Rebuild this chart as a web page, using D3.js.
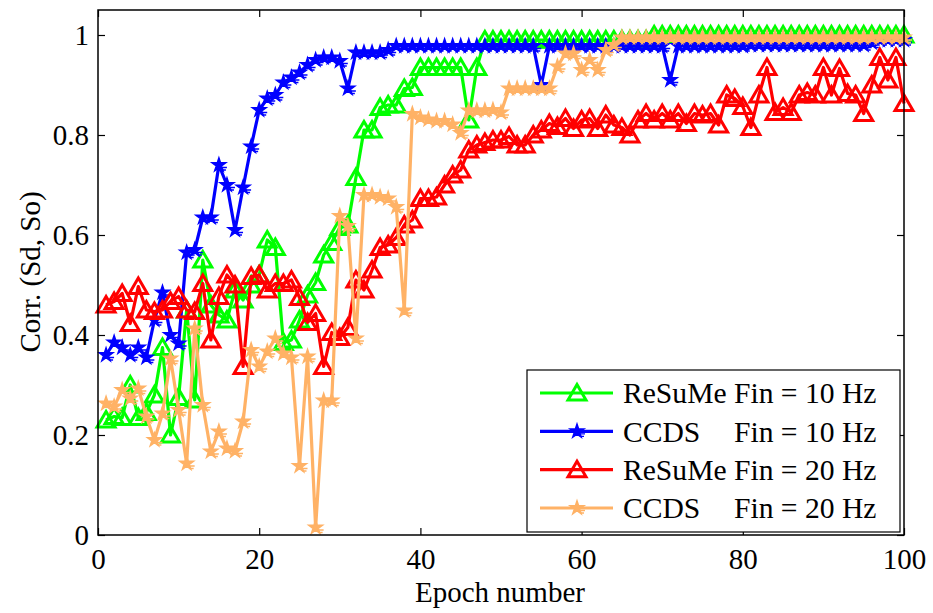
<!DOCTYPE html>
<html>
<head>
<meta charset="utf-8">
<style>
body { margin: 0; background: #fff; }
svg { font-family: "Liberation Serif", "Times New Roman", serif; }
.axis text { font-family: "Liberation Serif", "Times New Roman", serif; font-size: 29px; fill: #000; }
.axis line { stroke: #000; stroke-width: 1.2px; }
.axis path { display: none; }
.frame { fill: none; stroke: #000; stroke-width: 1.5px; }
.series { fill: none; stroke-width: 3.2px; stroke-linejoin: round; }
.label { font-size: 29px; fill: #000; }
.legend-text { font-size: 29.6px; fill: #000; }
</style>
</head>
<body>
<svg width="933" height="613"></svg>
<script src="https://d3js.org/d3.v7.min.js"></script>
<script>

// epochs 1..100
var epochs = d3.range(1, 101);

var resume10 = [
  0.23, 0.237, 0.235, 0.30, 0.235, 0.245, 0.28, 0.375, 0.20, 0.275,
  0.45, 0.27, 0.55, 0.46, 0.44, 0.43, 0.49, 0.47, 0.50, 0.52,
  0.59, 0.575, 0.385, 0.39, 0.43, 0.48, 0.505, 0.56, 0.585, 0.615,
  0.62, 0.715, 0.81, 0.81, 0.855, 0.86, 0.86, 0.893, 0.895, 0.935,
  0.935, 0.935, 0.935, 0.935, 0.935, 0.83, 0.935, 0.99, 0.99, 0.99,
  0.99, 0.99, 0.99, 0.99, 0.99, 0.99, 0.99, 0.99, 0.99, 0.99,
  0.99, 0.99, 0.99, 0.99, 0.99, 0.99, 0.99, 0.99, 1.0, 1.0,
  1.0, 1.0, 1.0, 1.0, 1.0, 1.0, 1.0, 1.0, 1.0, 1.0,
  1.0, 1.0, 1.0, 1.0, 1.0, 1.0, 1.0, 1.0, 1.0, 1.0,
  1.0, 1.0, 1.0, 1.0, 1.0, 1.0, 1.0, 1.0, 1.0, 1.0
];

var ccds10 = [
  0.36, 0.385, 0.375, 0.36, 0.375, 0.355, 0.43, 0.485, 0.40, 0.383,
  0.565, 0.57, 0.635, 0.635, 0.74, 0.70, 0.61, 0.695, 0.777, 0.85,
  0.873, 0.88, 0.905, 0.915, 0.925, 0.94, 0.95, 0.955, 0.955, 0.948,
  0.893, 0.965, 0.965, 0.965, 0.965, 0.97, 0.978, 0.978, 0.978, 0.978,
  0.978, 0.978, 0.978, 0.978, 0.978, 0.978, 0.978, 0.978, 0.978, 0.978,
  0.978, 0.978, 0.978, 0.978, 0.90, 0.978, 0.978, 0.978, 0.978, 0.978,
  0.978, 0.978, 0.978, 0.978, 0.978, 0.978, 0.978, 0.978, 0.978, 0.978,
  0.91, 0.978, 0.978, 0.978, 0.978, 0.978, 0.978, 0.978, 0.978, 0.978,
  0.98, 0.98, 0.98, 0.98, 0.98, 0.98, 0.98, 0.98, 0.98, 0.98,
  0.98, 0.98, 0.98, 0.98, 0.98, 0.985, 0.99, 0.99, 0.99, 0.99
];

var resume20 = [
  0.46, 0.467, 0.483, 0.423, 0.497, 0.45, 0.447, 0.45, 0.467, 0.477,
  0.45, 0.447, 0.503, 0.39, 0.477, 0.52, 0.50, 0.337, 0.517, 0.52,
  0.49, 0.503, 0.503, 0.51, 0.475, 0.425, 0.443, 0.337, 0.405, 0.395,
  0.415, 0.51, 0.49, 0.53, 0.575, 0.58, 0.595, 0.62, 0.63, 0.673,
  0.673, 0.676, 0.70, 0.72, 0.73, 0.77, 0.78, 0.785, 0.79, 0.79,
  0.797, 0.78, 0.78, 0.80, 0.81, 0.823, 0.817, 0.833, 0.813, 0.83,
  0.833, 0.813, 0.84, 0.82, 0.815, 0.80, 0.83, 0.843, 0.83, 0.843,
  0.83, 0.843, 0.823, 0.843, 0.84, 0.843, 0.82, 0.88, 0.873, 0.857,
  0.815, 0.88, 0.935, 0.845, 0.855, 0.845, 0.88, 0.885, 0.88, 0.935,
  0.88, 0.933, 0.883, 0.88, 0.843, 0.90, 0.955, 0.91, 0.955, 0.863
];

var ccds20 = [
  0.263, 0.257, 0.29, 0.273, 0.293, 0.237, 0.19, 0.243, 0.353, 0.25,
  0.143, 0.413, 0.26, 0.167, 0.207, 0.173, 0.168, 0.227, 0.37, 0.337,
  0.367, 0.393, 0.363, 0.355, 0.138, 0.357, 0.015, 0.269, 0.269, 0.638,
  0.618, 0.393, 0.68, 0.68, 0.676, 0.673, 0.656, 0.449, 0.842, 0.835,
  0.831, 0.828, 0.828, 0.821, 0.804, 0.849, 0.849, 0.849, 0.85, 0.845,
  0.893, 0.893, 0.893, 0.893, 0.893, 0.893, 0.937, 0.963, 0.963, 0.93,
  0.95, 0.93, 0.97, 0.98, 0.995, 0.995, 0.995, 0.995, 0.995, 0.995,
  0.995, 0.995, 0.995, 0.995, 0.995, 0.995, 0.995, 0.995, 0.995, 0.995,
  0.995, 0.995, 0.995, 0.995, 0.995, 0.995, 0.995, 0.995, 0.995, 0.995,
  0.995, 0.995, 0.995, 0.995, 0.995, 0.995, 0.995, 0.995, 0.995, 0.995
];

var legendNames = ["ReSuMe", "CCDS", "ReSuMe", "CCDS"];
var legendRates = ["Fin = 10 Hz", "Fin = 10 Hz", "Fin = 20 Hz", "Fin = 20 Hz"];
var xTicks = [0, 20, 40, 60, 80, 100];
var yTicks = [0, 0.2, 0.4, 0.6, 0.8, 1];

var series = [
  {values: resume10, color: "#00ff00", marker: "tri"},
  {values: ccds10, color: "#0000ff", marker: "star"},
  {values: resume20, color: "#ff0000", marker: "tri"},
  {values: ccds20, color: "#ffb266", marker: "star"}
];

var plotLeft = 98, plotRight = 904, plotTop = 10, plotBottom = 535;

var svg = d3.select("svg");

var x = d3.scaleLinear().domain([0, 100]).range([plotLeft, plotRight]);
var y = d3.scaleLinear().domain([0, 1.05]).range([plotBottom, plotTop]);

svg.append("rect").attr("width", 933).attr("height", 613).attr("fill", "#fff");

// axes, ticks point inward on all four sides
svg.append("g").attr("class", "axis")
    .attr("transform", "translate(0," + plotBottom + ")")
    .call(d3.axisBottom(x).tickValues(xTicks).tickSize(-7).tickPadding(13).tickFormat(d3.format("d")));
svg.append("g").attr("class", "axis")
    .attr("transform", "translate(0," + plotTop + ")")
    .call(d3.axisTop(x).tickValues(xTicks).tickSize(-7).tickFormat(""));
svg.append("g").attr("class", "axis")
    .attr("transform", "translate(" + plotLeft + ",0)")
    .call(d3.axisLeft(y).tickValues(yTicks).tickSize(-7).tickPadding(9).tickFormat(d3.format("")));
svg.append("g").attr("class", "axis")
    .attr("transform", "translate(" + plotRight + ",0)")
    .call(d3.axisRight(y).tickValues(yTicks).tickSize(-7).tickFormat(""));

var triPath = "M0,-8.5L9,7L-9,7Z";
var star = d3.symbol().type(d3.symbolStar).size(60);

function drawMarker(g, s) {
  if (s.marker === "tri") {
    g.append("path").attr("d", triPath)
      .attr("fill", "none").attr("stroke", s.color).attr("stroke-width", 3);
  } else {
    g.append("path").attr("d", star())
      .attr("fill", s.color).attr("stroke", s.color).attr("stroke-width", 1.4);
    g.append("path").attr("d", "M3,2.5H8M3,5H7")
      .attr("stroke", s.color).attr("stroke-width", 1.3);
  }
}

var line = d3.line()
    .x(function(d, i) { return x(epochs[i]); })
    .y(function(d) { return y(d); });

series.forEach(function(s) {
  svg.append("path").attr("class", "series")
    .attr("stroke", s.color)
    .attr("d", line(s.values));
  svg.append("g").selectAll("g")
    .data(s.values)
    .enter().append("g")
    .attr("transform", function(d, i) { return "translate(" + x(epochs[i]) + "," + y(d) + ")"; })
    .each(function() { drawMarker(d3.select(this), s); });
});

svg.append("rect").attr("class", "frame")
    .attr("x", plotLeft).attr("y", plotTop)
    .attr("width", plotRight - plotLeft).attr("height", plotBottom - plotTop);

// axis titles
svg.append("text").attr("class", "label")
    .attr("text-anchor", "middle")
    .attr("x", 500).attr("y", 602)
    .text("Epoch number");
svg.append("text").attr("class", "label")
    .attr("text-anchor", "middle")
    .attr("transform", "translate(30,272) rotate(-90)")
    .attr("dy", "0.35em")
    .text("Corr. (Sd, So)");

// legend
var lg = svg.append("g");
lg.append("rect")
    .attr("x", 527).attr("y", 370).attr("width", 373).attr("height", 162)
    .attr("fill", "#fff").attr("stroke", "#000").attr("stroke-width", 1.2);

var rowY = d3.scalePoint().domain(d3.range(4)).range([393, 508]);
var nameCol = 0;

series.forEach(function(s, i) {
  var yy = rowY(i);
  lg.append("line")
    .attr("x1", 540).attr("x2", 613).attr("y1", yy).attr("y2", yy)
    .attr("stroke", s.color).attr("stroke-width", 3.2);
  drawMarker(lg.append("g").attr("transform", "translate(577," + yy + ")"), s);
  var t = lg.append("text").attr("class", "legend-text")
    .attr("x", 623).attr("y", yy).attr("dy", "0.35em");
  var nm = t.append("tspan").text(legendNames[i] + "\u00a0");
  if (i === 0) nameCol = nm.node().getComputedTextLength();
  t.append("tspan").attr("x", 623 + nameCol).text(legendRates[i]);
});

</script>
</body>
</html>
